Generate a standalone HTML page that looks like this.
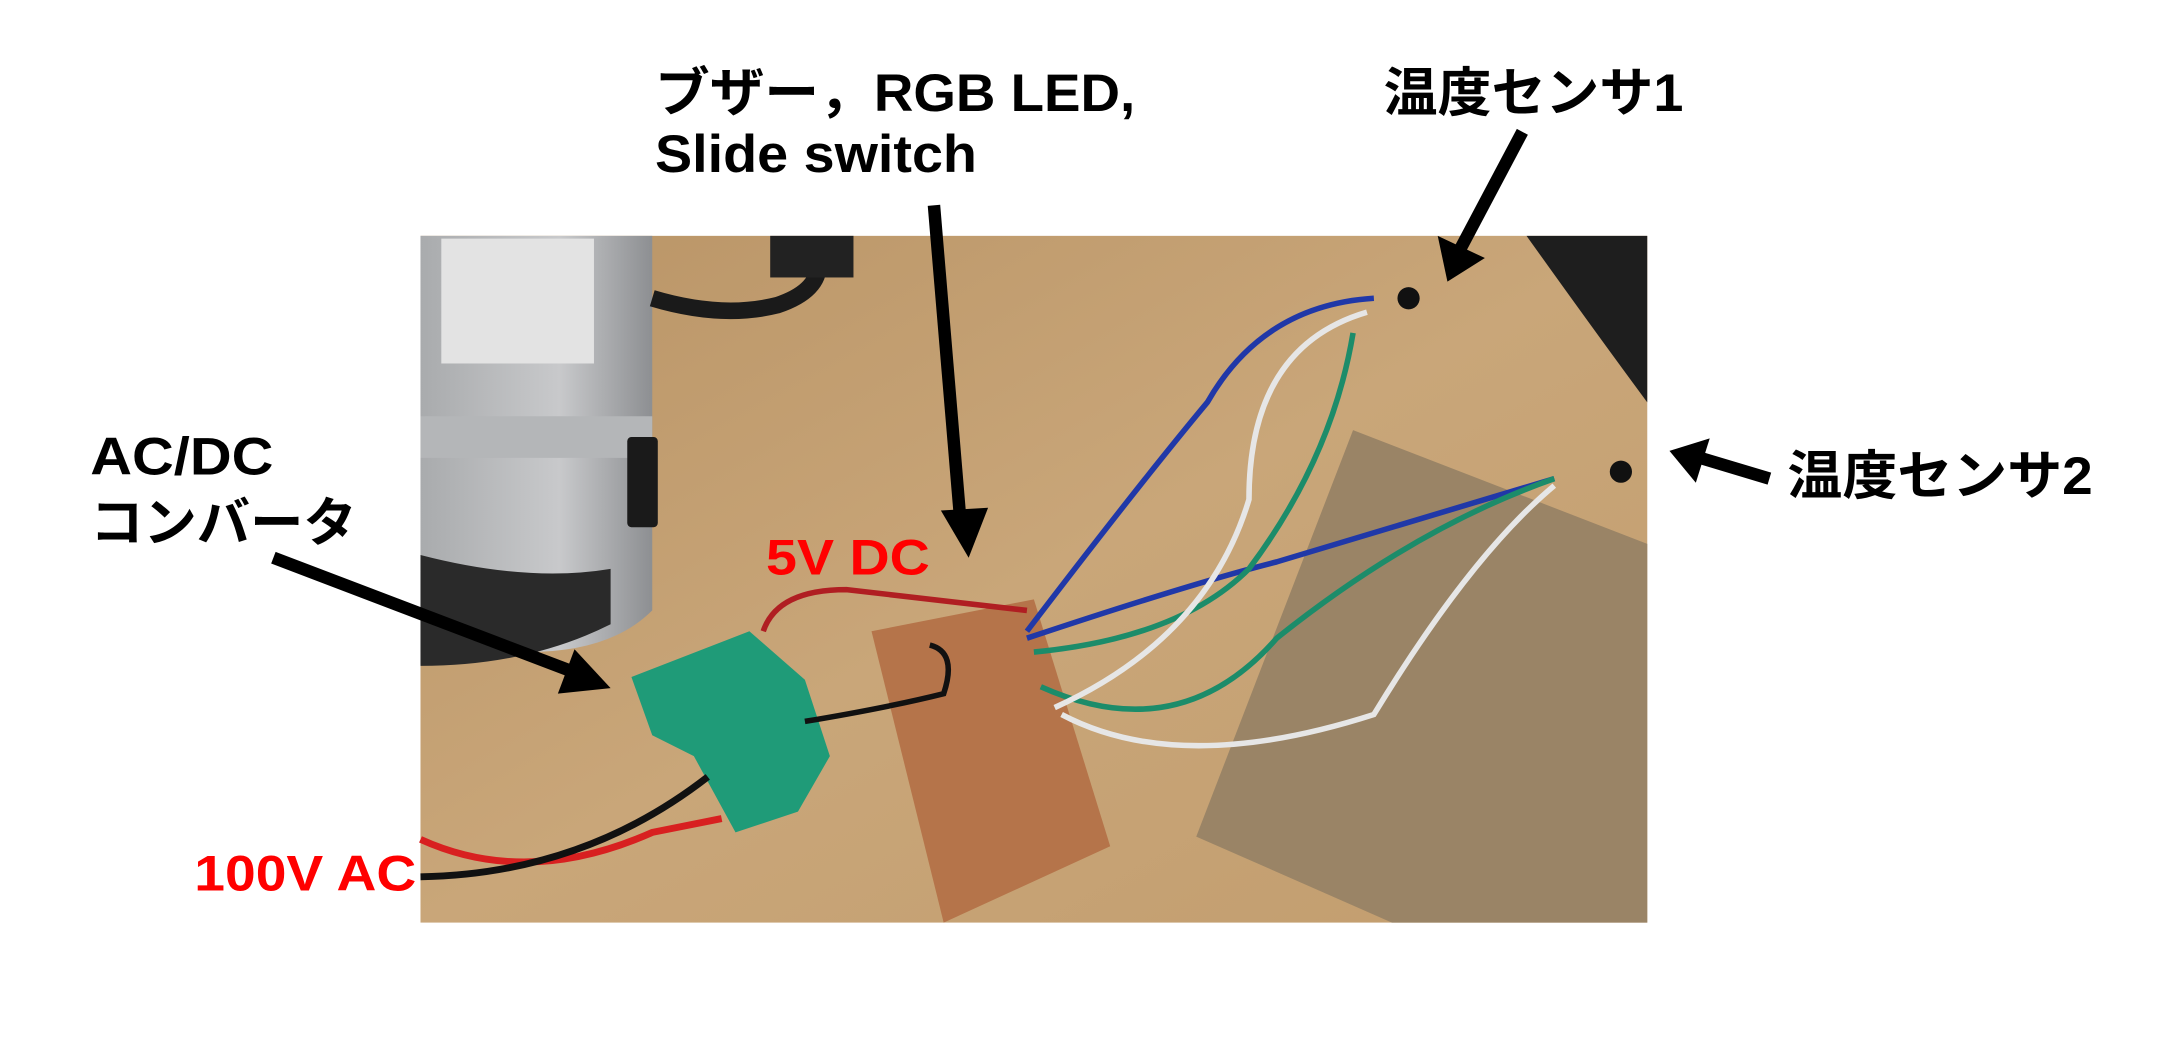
<!DOCTYPE html>
<html><head><meta charset="utf-8"><style>
html,body{margin:0;padding:0;background:#fff;width:2176px;height:1053px;overflow:hidden}
svg{display:block}
text{font-family:"Liberation Sans","Noto Sans CJK JP",sans-serif;font-weight:bold}
</style></head><body>
<svg width="2176" height="1053" viewBox="0 0 1568 759" preserveAspectRatio="none">
<defs>
<linearGradient id="wood" x1="0" y1="0" x2="1" y2="1">
<stop offset="0" stop-color="#b99466"/><stop offset="0.5" stop-color="#c9a679"/><stop offset="1" stop-color="#c29d6e"/></linearGradient>
<linearGradient id="metal" x1="0" y1="0" x2="1" y2="0">
<stop offset="0" stop-color="#a9abad"/><stop offset="0.6" stop-color="#c8c9cb"/><stop offset="1" stop-color="#8d8f92"/></linearGradient>
</defs>
<rect x="303" y="170" width="884" height="495" fill="url(#wood)"/>
<path d="M1100,170 L1187,170 L1187,290 Q1150,240 1100,170Z" fill="#1e1e1e"/>
<path d="M303,170 L470,170 L470,440 Q440,470 380,470 L303,470Z" fill="url(#metal)"/>
<path d="M303,300 L470,300 L470,330 L303,330Z" fill="#b4b6b8"/>
<rect x="318" y="172" width="110" height="90" fill="#e3e3e3"/>
<path d="M303,400 Q380,420 440,410 L440,450 Q380,480 303,480Z" fill="#2a2a2a"/>
<rect x="452" y="315" width="22" height="65" rx="3" fill="#1a1a1a"/>
<path d="M470,215 Q520,230 560,220 Q590,210 590,190" stroke="#1a1a1a" stroke-width="12" fill="none"/>
<rect x="555" y="170" width="60" height="30" fill="#222"/>
<path d="M975,310 L1187,392 L1187,665 L1003,665 L862,603Z" fill="#9a8466"/>
<path d="M628,455 L745,432 L800,610 L680,665Z" fill="#b5744a"/>
<path d="M455,488 L540,455 L580,490 L598,545 L575,585 L530,600 L500,545 L470,530Z" fill="#1f9b78"/>
<path d="M550,455 Q560,425 610,425 L740,440" stroke="#b01e22" stroke-width="4" fill="none"/>
<path d="M303,605 Q380,640 470,600 L520,590" stroke="#d82020" stroke-width="5" fill="none"/>
<path d="M303,632 Q420,630 510,560" stroke="#111" stroke-width="5" fill="none"/>
<path d="M580,520 Q640,510 680,500 Q690,470 670,465" stroke="#111" stroke-width="4" fill="none"/>
<path d="M740,455 Q820,350 870,290 Q910,220 990,215" stroke="#2038a8" stroke-width="4" fill="none"/>
<path d="M740,460 Q860,420 920,405 L1120,345" stroke="#2038a8" stroke-width="4" fill="none"/>
<path d="M745,470 Q850,460 900,410 Q960,330 975,240" stroke="#1c8c6a" stroke-width="4" fill="none"/>
<path d="M750,495 Q850,540 920,460 Q1020,380 1120,345" stroke="#1c8c6a" stroke-width="4" fill="none"/>
<path d="M760,510 Q870,460 900,360 Q900,250 985,225" stroke="#e6e6e6" stroke-width="4" fill="none"/>
<path d="M765,515 Q850,560 990,515 Q1060,400 1120,350" stroke="#e6e6e6" stroke-width="4" fill="none"/>
<circle cx="1015" cy="215" r="8" fill="#111"/>
<circle cx="1168" cy="340" r="8" fill="#111"/>
<g stroke="#000" stroke-width="9" fill="#000">
<line x1="673" y1="148" x2="692" y2="375"/>
<line x1="1097" y1="95" x2="1052" y2="180"/>
<line x1="1275" y1="345" x2="1225" y2="330"/>
<line x1="197" y1="402" x2="415" y2="485"/>
</g>
<polygon points="678,368 712,366 698,402" fill="#000"/>
<polygon points="1036,170 1070,186 1043,203" fill="#000"/>
<polygon points="1232,316 1222,348 1203,325" fill="#000"/>
<polygon points="414,468 402,500 440,496" fill="#000"/>
<text x="472" y="80" font-size="38" textLength="346" lengthAdjust="spacingAndGlyphs">ブザー，RGB LED,</text>
<text x="472" y="124" font-size="38" textLength="232" lengthAdjust="spacingAndGlyphs">Slide switch</text>
<text x="997" y="80" font-size="38" textLength="216" lengthAdjust="spacingAndGlyphs">温度センサ1</text>
<text x="1288" y="356" font-size="38" textLength="220" lengthAdjust="spacingAndGlyphs">温度センサ2</text>
<text x="65" y="342" font-size="38" textLength="132" lengthAdjust="spacingAndGlyphs">AC/DC</text>
<text x="65" y="390" font-size="38" textLength="192" lengthAdjust="spacingAndGlyphs">コンバータ</text>
<text x="552" y="414" font-size="36" fill="#f00" textLength="118" lengthAdjust="spacingAndGlyphs">5V DC</text>
<text x="140" y="642" font-size="36" fill="#f00" textLength="160" lengthAdjust="spacingAndGlyphs">100V AC</text>
</svg>
</body></html>
